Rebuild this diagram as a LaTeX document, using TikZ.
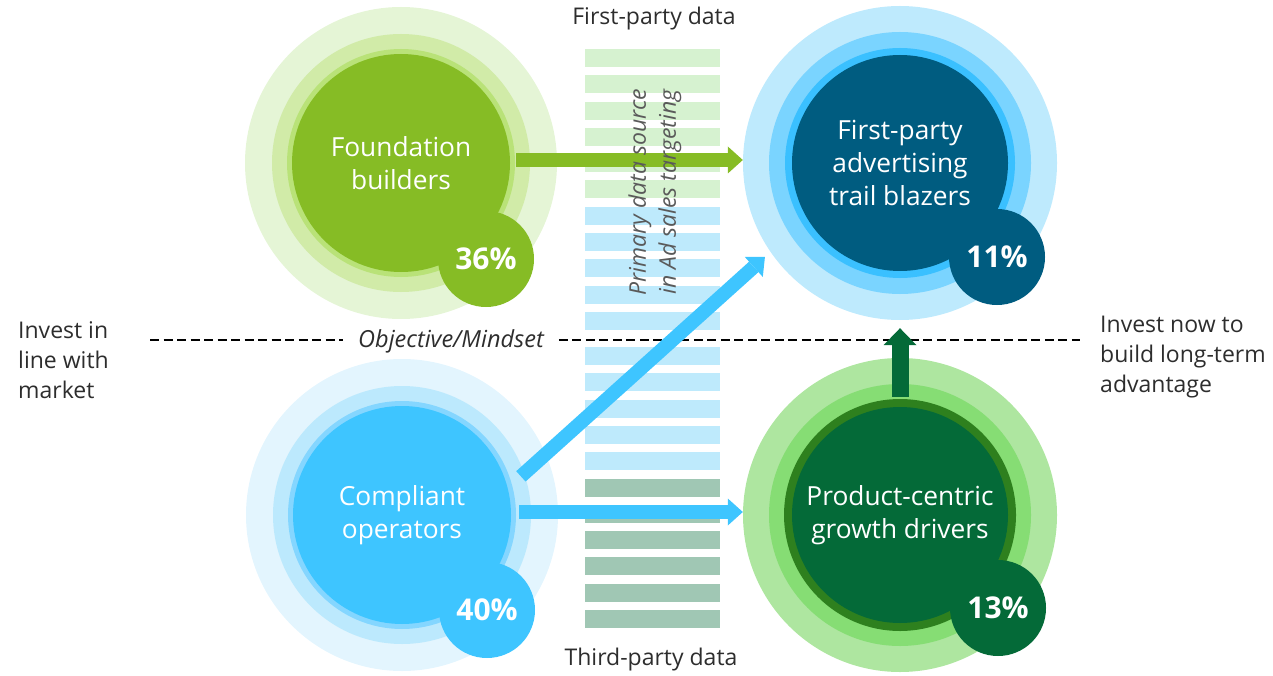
\documentclass[tikz,border=0pt]{standalone}
\usepackage{fontspec}
\setmainfont{Open Sans}
\usetikzlibrary{arrows.meta,calc}
\definecolor{fbA}{RGB}{229,245,214}
\definecolor{fbB}{RGB}{209,235,168}
\definecolor{fbC}{RGB}{185,226,120}
\definecolor{fbD}{RGB}{134,188,37}
\definecolor{fpA}{RGB}{190,234,253}
\definecolor{fpB}{RGB}{122,212,255}
\definecolor{fpC}{RGB}{58,192,255}
\definecolor{fpD}{RGB}{0,92,128}
\definecolor{coA}{RGB}{227,245,254}
\definecolor{coB}{RGB}{188,233,253}
\definecolor{coC}{RGB}{132,214,255}
\definecolor{coD}{RGB}{62,197,255}
\definecolor{pcA}{RGB}{174,230,160}
\definecolor{pcB}{RGB}{134,221,116}
\definecolor{pcC}{RGB}{46,128,30}
\definecolor{pcD}{RGB}{4,106,56}
\definecolor{stG}{RGB}{214,242,208}
\definecolor{stB}{RGB}{190,234,252}
\definecolor{stD}{RGB}{160,199,180}
\definecolor{txt}{RGB}{45,45,45}
\definecolor{rottxt}{RGB}{90,90,90}
\begin{document}
\begin{tikzpicture}[x=1pt,y=-1pt,
  ring/.style={circle,inner sep=0pt,draw=none},
  maintext/.style={text=white,align=center,font=\fontsize{26.3}{33}\selectfont},
  badge/.style={circle,inner sep=0pt,draw=none,minimum size=96pt,text=white,font=\fontsize{30}{33}\selectfont\bfseries},
  lbl/.style={text=txt,font=\fontsize{23}{30}\selectfont,inner sep=0pt},
  fatarrow/.style={line width=14pt,-{Triangle[width=27pt,length=15pt,line width=0pt]}},
  dashline/.style={draw=black,line width=1.3pt,dash pattern=on 9pt off 4.5pt}
]
\useasboundingbox (0,0) rectangle (1273,676);
% stripes
\foreach \i in {0,...,5} \fill[stG] (585,{49+26.3*\i}) rectangle (720,{67+26.3*\i});
\foreach \i in {6,...,10} \fill[stB] (585,{49+26.3*\i}) rectangle (720,{67+26.3*\i});
\foreach \i in {0,...,4} \fill[stB] (585,{347+26.3*\i}) rectangle (720,{365+26.3*\i});
\foreach \i in {5,...,10} \fill[stD] (585,{347+26.3*\i}) rectangle (720,{365+26.3*\i});
% Foundation builders
\node[ring,fill=fbA,minimum size=312pt] (fbo) at (401,163) {};
\node[ring,fill=fbB,minimum size=258pt] (fbr) at (401,163) {};
\node[ring,fill=fbC,minimum size=228pt] (fbc) at (401,163) {};
\node[ring,fill=fbD,minimum size=218pt,maintext] (fb) at (401,163) {Foundation\\builders};
\node[badge,fill=fbD] (fbb) at (486,259) {36\%};
% First-party trail blazers
\node[ring,fill=fpA,minimum size=314pt] (fpo) at (900,163) {};
\node[ring,fill=fpB,minimum size=262pt] (fpr) at (900,163) {};
\node[ring,fill=fpC,minimum size=230pt] (fpc) at (900,163) {};
\node[ring,fill=fpD,minimum size=216pt,maintext] (fp) at (900,163) {First-party\\advertising\\trail blazers};
\node[badge,fill=fpD] (fpb) at (997,257) {11\%};
% Compliant operators
\node[ring,fill=coA,minimum size=312pt] (coo) at (402,515) {};
\node[ring,fill=coB,minimum size=258pt] (cor) at (402,515) {};
\node[ring,fill=coC,minimum size=228pt] (coc) at (402,515) {};
\node[ring,fill=coD,minimum size=218pt,maintext] (co) at (402,515) {Compliant\\operators};
\node[badge,fill=coD] (cob) at (487,610) {40\%};
% Product-centric growth drivers
\node[ring,fill=pcA,minimum size=314pt] (pco) at (900,515) {};
\node[ring,fill=pcB,minimum size=262pt] (pcr) at (900,515) {};
\node[ring,fill=pcC,minimum size=232pt] (pcc) at (900,515) {};
\node[ring,fill=pcD,minimum size=216pt,maintext] (pc) at (900,515) {Product-centric\\growth drivers};
\node[badge,fill=pcD] (pcb) at (998,608) {13\%};
% dashed divider
\node[font=\fontsize{23.5}{28}\selectfont\itshape,text=txt,inner xsep=15pt] (obj) at (451,341) {Objective/Mindset};
\coordinate (dl) at (150,340);
\coordinate (dr) at (1080,340);
\draw[dashline] (dl) -- (obj.west |- dl);
\draw[dashline] (obj.east |- dl) -- (dr);
% arrows
\draw[fatarrow,draw=fbD,fill=fbD] ([xshift=6pt,yshift=3pt]fb.east) -- ([yshift=3pt]fpo.west);
\draw[fatarrow,draw=coD,fill=coD] ([xshift=8pt,yshift=3pt]co.east) -- ([yshift=3pt]pco.west);
\draw[fatarrow,draw=coD,fill=coD] ([shift={(18:125pt)}]co.center) -- ([shift={(214.8:164.5pt)}]fp.center);
\draw[line width=17pt,draw=pcD,-{Triangle[width=33pt,length=17pt,line width=0pt]}] ([yshift=2pt]pcc.north) -- ([yshift=-8pt]fpo.south);
% labels
\node[lbl,anchor=west,align=left] (lt) at (18,360) {Invest in\\line with\\market};
\node[lbl,anchor=west,align=left] (rt) at (1100,357) {Invest now to\\build long-term\\advantage};
\node[lbl] (top) at (654,19) {First-party data};
\node[lbl] (bot) at (651,660) {Third-party data};
\node[rotate=90,align=center,text=rottxt,font=\fontsize{23}{30}\selectfont\itshape,inner sep=0pt] (prim) at (655,192) {Primary data source\\in Ad sales targeting};
\end{tikzpicture}
\end{document}
